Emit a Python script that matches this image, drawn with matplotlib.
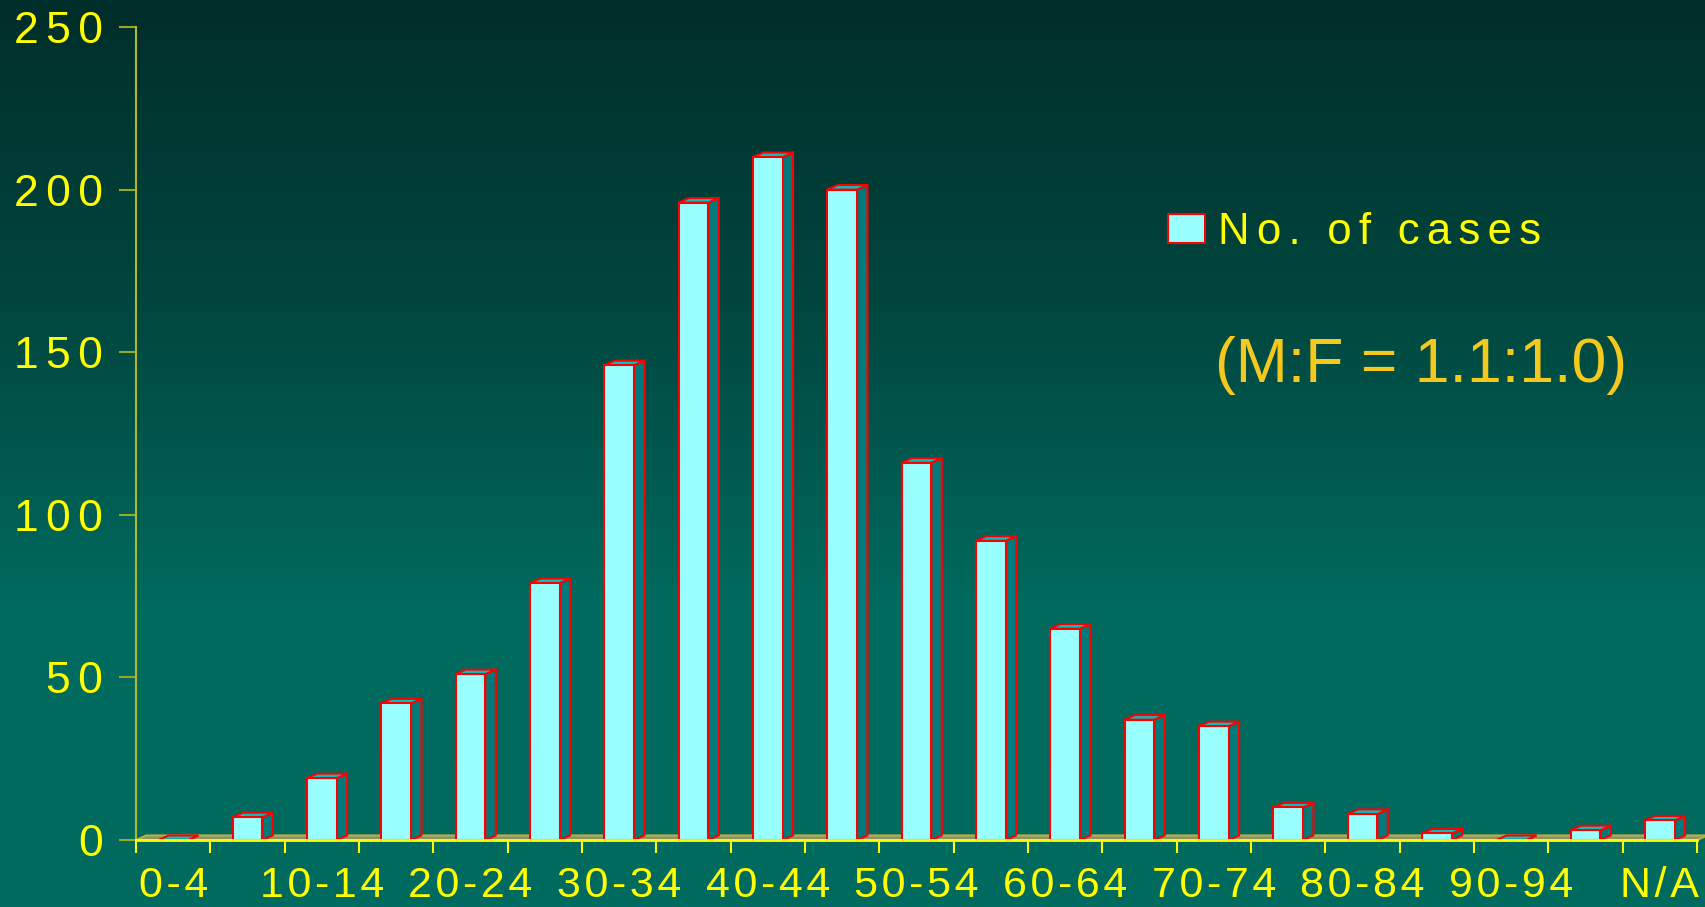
import numpy as np
import matplotlib
matplotlib.use('Agg')
import matplotlib.pyplot as plt
from matplotlib.patches import Polygon
from matplotlib.colors import LinearSegmentedColormap

# data
age_groups = ['0-4', '5-9', '10-14', '15-19', '20-24', '25-29', '30-34', '35-39',
              '40-44', '45-49', '50-54', '55-59', '60-64', '65-69', '70-74',
              '75-79', '80-84', '85-89', '90-94', '95-99', 'N/A']
cases = [0, 7, 19, 42, 51, 79, 146, 196, 210, 200, 116, 92, 65, 37, 35,
         10, 8, 2, 0, 3, 6]
y_ticks = [0, 50, 100, 150, 200, 250]
legend_label = 'No. of cases'
ratio_note = '(M:F = 1.1:1.0)'

plt.rcParams['font.family'] = ['Liberation Sans', 'DejaVu Sans']

YELLOW = '#ffff00'
FACE = '#99ffff'
SIDE = '#007a7a'
TOP = '#00c4c4'
EDGE = '#ff0000'
SP = '\u2006'   # six-per-em space, wide letter spacing
HSP = '\u200a'  # hair space, for the x labels


def spaced(s, sep=SP):
    return sep.join(s)


fig = plt.figure(figsize=(17.06, 9.07), dpi=100)

# gradient background
bg = fig.add_axes([0, 0, 1, 1], zorder=-5)
cmap = LinearSegmentedColormap.from_list('bg', ['#002e2a', '#00463e', '#006a5e', '#006b60'])
grad = np.linspace(0, 1, 256).reshape(-1, 1)
bg.imshow(grad, aspect='auto', cmap=cmap, extent=[0, 1, 0, 1], origin='upper')
bg.axis('off')

ax = fig.add_axes([136 / 1706, 67 / 907, (1697 - 136) / 1706, (840 - 27) / 907])
ax.set_facecolor('none')

n = len(age_groups)
x = np.arange(n) + 0.5
width = 0.40
dx, dy = 0.14, 1.4  # fake 3D depth

# floor
floor = Polygon([(0, 0), (n, 0), (n + dx, dy), (dx, dy)], closed=True,
                facecolor='#8f8f73', edgecolor='#b4b43c', lw=1.5, zorder=1, clip_on=False)
ax.add_patch(floor)

bars = ax.bar(x, cases, width=width, color=FACE, edgecolor=EDGE, linewidth=1.5, zorder=3)
for xi, v in zip(x, cases):
    x0, x1 = xi - width / 2, xi + width / 2
    side = Polygon([(x1, 0), (x1 + dx, dy), (x1 + dx, v + dy), (x1, v)], closed=True,
                   facecolor=SIDE, edgecolor=EDGE, lw=1.5, zorder=2)
    top = Polygon([(x0, v), (x0 + dx, v + dy), (x1 + dx, v + dy), (x1, v)], closed=True,
                  facecolor=TOP, edgecolor=EDGE, lw=1.5, zorder=2)
    ax.add_patch(side)
    ax.add_patch(top)

ax.set_xlim(0, n)
ax.set_ylim(0, 250)

ax.set_yticks(y_ticks, labels=[spaced(str(t)) for t in y_ticks])
ax.set_xticks(np.arange(n + 1), minor=True)
ax.set_xticks(x, labels=[spaced(g, HSP) if i % 2 == 0 else '' for i, g in enumerate(age_groups)])

ax.tick_params(axis='y', colors='#9aa82a', length=12, width=1.5, pad=12,
               labelcolor=YELLOW, labelsize=32)
ax.tick_params(axis='x', which='major', length=0, pad=19, labelcolor=YELLOW, labelsize=31)
ax.tick_params(axis='x', which='minor', length=9.5, width=1.5, colors=YELLOW)

for s in ['top', 'right']:
    ax.spines[s].set_visible(False)
ax.spines['left'].set_color('#b0b830')
ax.spines['left'].set_linewidth(1.5)
ax.spines['bottom'].set_color(YELLOW)
ax.spines['bottom'].set_linewidth(2)
ax.spines['bottom'].set_zorder(4)

leg = ax.legend(handles=[bars[0]], labels=[spaced(legend_label)],
                loc='upper left', bbox_to_anchor=(1146 / 1706, 1 - 190 / 907),
                bbox_transform=fig.transFigure, frameon=False, fontsize=31.5,
                labelcolor=YELLOW, handlelength=0.85, handleheight=0.65,
                handletextpad=0.3, borderpad=0)

fig.text(1215 / 1706, 1 - 382 / 907, ratio_note, color='#f5c81e', fontsize=45,
         ha='left', va='baseline')

fig.savefig('out.png', dpi=100)
